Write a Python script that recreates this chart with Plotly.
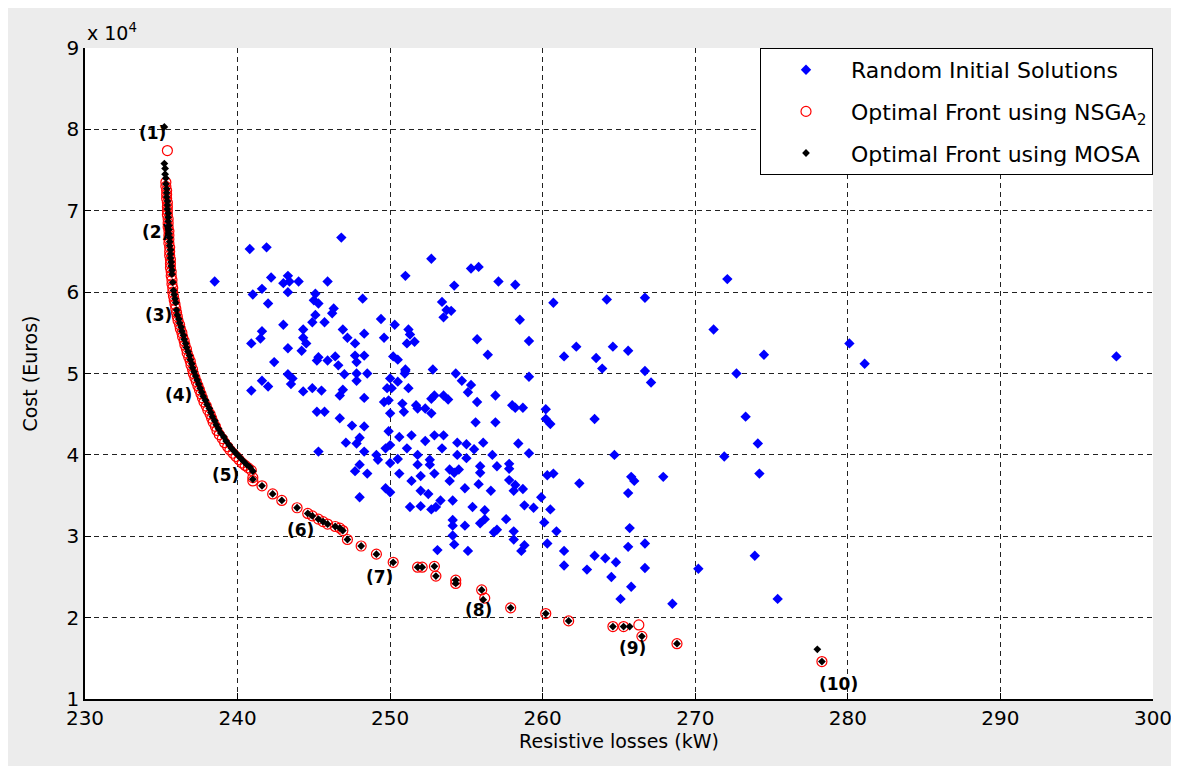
import plotly.graph_objects as go

# ---------------- data (cost in units of 1e4 Euros) ----------------
rand_x = [
    238.5, 240.8, 241.9, 246.8, 242.2, 243.3, 243.0, 243.4, 244.0, 245.9, 241.6, 241.0, 243.3, 242.0,
    245.1, 245.0, 245.3, 248.2, 246.3, 246.2, 245.1, 249.4, 250.3, 243.0, 244.9, 245.7, 241.6, 241.5,
    240.9, 244.3, 244.3, 244.5, 246.9, 247.2, 248.3, 247.7, 249.6, 251.2, 251.3, 251.1, 251.6, 243.3,
    244.2, 242.4, 245.3, 245.2, 245.9, 246.4, 247.7, 248.3, 247.8, 246.6, 250.2, 250.5, 251.0, 250.96,
    252.7, 255.3, 255.8, 251.0, 254.2, 257.1, 253.4, 253.7, 253.5, 254.0, 255.7, 256.4, 247.8, 248.5,
    247.0, 243.3, 243.6, 243.5, 241.6, 242.0, 240.9, 244.3, 244.9, 245.5, 247.8, 246.9, 246.7, 248.3,
    250.0, 250.5, 249.8, 250.1, 251.2, 251.0, 252.8, 254.3, 254.7, 255.3, 255.1, 256.9, 252.7, 252.9,
    253.5, 253.8, 249.6, 249.9, 250.8, 251.7, 251.8, 250.9, 252.3, 252.7, 255.7, 245.2, 245.7, 250.0,
    246.7,
    247.5, 248.3, 249.9, 250.6, 251.4, 252.3, 252.9, 253.5, 254.4, 255.0, 256.1, 255.6, 256.9, 247.1,
    247.8, 248.0, 245.3, 248.3, 249.1, 249.2, 249.7, 250.0, 251.1, 250.5, 250.0, 251.8, 251.8, 252.6,
    252.6, 253.4, 254.4, 255.0, 255.5, 256.7, 257.0, 255.9, 248.0, 247.7, 248.5, 250.6, 251.4, 252.0,
    252.9, 253.9, 254.2, 254.5, 253.9, 254.9, 255.9, 255.8, 256.6, 249.7, 250.0, 248.0, 252.0, 252.5,
    253.3, 251.3, 252.0, 252.7, 253.0, 254.1, 255.4, 256.2, 254.1, 254.1, 254.9, 255.9, 256.2, 256.8,
    257.0, 254.1, 254.2, 253.1, 255.1,
    258.2, 260.7, 264.2, 266.7, 272.1, 258.5, 259.1, 261.4, 262.2, 263.5, 263.9, 264.6, 265.6, 266.7,
    267.1, 271.2, 274.5, 272.7, 259.1, 258.0, 258.2, 258.7, 260.2, 260.2, 260.5, 263.4, 273.3,
    274.1, 258.4, 259.1, 257.8, 257.8, 257.8, 258.1, 258.7, 258.2, 260.3, 260.7, 264.7, 262.4, 265.8,
    266.0, 265.6, 267.9, 271.9, 274.2, 259.9, 258.8, 259.4, 260.5, 260.1, 260.9, 257.6, 258.1, 258.1,
    258.8, 258.6, 260.3, 261.4, 261.4, 263.4, 264.1, 264.8, 262.9, 264.5, 265.7, 265.6, 266.7, 266.7,
    265.8, 265.1, 268.5, 270.2, 273.9, 275.4,
    280.1, 281.1, 297.6,
]
rand_y = [
    6.13, 6.53, 6.55, 6.67, 6.18, 6.20, 6.11, 6.13, 6.13, 6.13, 6.04, 5.97, 6.00, 5.86,
    5.98, 5.90, 5.86, 5.92, 5.80, 5.74, 5.72, 5.67, 5.60, 5.60, 5.63, 5.63, 5.52, 5.43,
    5.37, 5.54, 5.44, 5.37, 5.54, 5.44, 5.49, 5.37, 5.44, 5.54, 5.48, 5.37, 5.39, 5.31,
    5.28, 5.14, 5.20, 5.16, 5.16, 5.21, 5.22, 5.22, 5.14, 5.10, 5.21, 5.17, 5.05, 5.00,
    6.41, 6.29, 6.31, 6.20, 6.08, 6.13, 5.88, 5.78, 5.69, 5.77, 5.42, 5.23, 5.00, 5.00,
    4.99, 4.99, 4.94, 4.87, 4.91, 4.84, 4.79, 4.78, 4.82, 4.79, 4.91, 4.80, 4.73, 4.70,
    4.94, 4.90, 4.82, 4.82, 4.82, 5.03, 5.05, 5.00, 4.91, 4.86, 4.77, 4.73, 4.69, 4.73,
    4.73, 4.68, 4.65, 4.67, 4.63, 4.61, 4.57, 4.53, 4.57, 4.51, 4.65, 4.53, 4.53, 4.51,
    4.45,
    4.36, 4.35, 4.29, 4.22, 4.24, 4.17, 4.24, 4.24, 4.15, 4.13, 4.15, 4.40, 4.40, 4.15,
    4.14, 4.21, 4.04, 4.04, 4.00, 3.94, 4.08, 4.12, 4.08, 3.95, 3.90, 4.00, 3.88, 3.94,
    3.88, 4.08, 4.00, 3.96, 4.07, 4.00, 3.86, 3.86, 3.88, 3.80, 3.77, 3.77, 3.68, 3.74,
    3.77, 3.82, 3.78, 3.82, 3.68, 3.59, 3.78, 3.64, 3.56, 3.59, 3.54, 3.48, 3.56, 3.52,
    3.44, 3.36, 3.37, 3.33, 3.36, 3.44, 3.36, 3.32, 3.20, 3.13, 3.13, 3.16, 3.21, 3.05,
    3.08, 3.01, 2.90, 2.83, 2.82,
    6.09, 5.87, 5.91, 5.93, 6.16, 5.66, 5.40, 5.21, 5.33, 5.19, 5.06, 5.33, 5.28, 5.03,
    4.89, 5.54, 5.23, 5.00, 4.96, 4.61, 4.58, 4.58, 4.56, 4.44, 4.38, 4.44, 4.47,
    4.14, 4.14, 4.02, 3.89, 3.83, 3.69, 3.56, 3.58, 3.63, 3.75, 3.77, 4.00, 3.65, 3.73,
    3.68, 3.53, 3.73, 3.98, 3.77, 3.48, 3.38, 3.35, 3.33, 3.17, 3.06, 3.21, 3.06, 2.96,
    2.89, 2.82, 2.91, 2.82, 2.64, 2.76, 2.73, 2.68, 2.59, 2.50, 3.10, 2.87, 2.91, 2.61,
    2.38, 2.23, 2.17, 2.60, 2.76, 2.23,
    5.37, 5.12, 5.21,
]

nsga_x = [
    235.4,
    235.3, 235.3, 235.35, 235.35, 235.35, 235.4, 235.4, 235.4, 235.4, 235.45, 235.45, 235.45,
    235.5, 235.5, 235.5, 235.5, 235.55, 235.55, 235.55, 235.6, 235.6, 235.6, 235.65, 235.65,
    235.7, 235.7, 235.75, 235.75, 235.8, 235.85, 235.9, 235.95, 236.0, 236.05, 236.1, 236.2,
    236.25, 236.35, 236.4, 236.5, 236.55, 236.65, 236.7, 236.8, 236.9, 236.95, 237.05, 237.1,
    237.2, 237.3, 237.4, 237.5, 237.6, 237.7, 237.8, 237.95, 238.05, 238.2, 238.3, 238.4,
    238.55, 238.65, 238.8, 239.0, 239.15, 239.35, 239.5, 239.7, 239.9, 240.1, 240.3, 240.5,
    240.7, 240.9, 241.0, 241.0,
    241.6, 242.3, 242.9, 243.9, 244.6, 244.9, 245.3, 245.6, 245.9, 246.4, 246.7, 246.9,
    247.2, 248.1, 249.1, 250.2, 251.8, 252.1, 252.9, 253.0, 254.3, 254.3, 256.0, 256.2,
    257.9, 260.2, 261.7, 264.6, 265.3, 266.3, 266.5, 268.8, 278.3,
]
nsga_y = [
    7.74,
    7.35, 7.30, 7.25, 7.20, 7.15, 7.10, 7.05, 7.00, 6.95, 6.90, 6.85, 6.80,
    6.75, 6.70, 6.65, 6.60, 6.55, 6.50, 6.45, 6.40, 6.35, 6.30, 6.25, 6.20,
    6.15, 6.10, 6.05, 6.00, 5.95, 5.90, 5.85, 5.80, 5.75, 5.70, 5.65, 5.60,
    5.55, 5.50, 5.45, 5.40, 5.35, 5.30, 5.25, 5.20, 5.15, 5.10, 5.05, 5.00,
    4.95, 4.90, 4.85, 4.80, 4.75, 4.70, 4.65, 4.60, 4.55, 4.50, 4.45, 4.40,
    4.35, 4.30, 4.25, 4.20, 4.15, 4.10, 4.06, 4.02, 3.98, 3.94, 3.90, 3.87,
    3.84, 3.81, 3.72, 3.68,
    3.62, 3.52, 3.44, 3.35, 3.28, 3.25, 3.21, 3.18, 3.15, 3.12, 3.10, 3.07,
    2.96, 2.88, 2.78, 2.68, 2.62, 2.62, 2.63, 2.51, 2.46, 2.42, 2.34, 2.24,
    2.12, 2.05, 1.96, 1.89, 1.89, 1.91, 1.77, 1.68, 1.46,
]

mosa_x = [
    235.2,
    235.2, 235.25, 235.25, 235.3, 235.3, 235.35, 235.35, 235.35, 235.4, 235.4, 235.4, 235.45,
    235.45, 235.45, 235.5, 235.5, 235.5, 235.55, 235.55, 235.55, 235.6, 235.6, 235.6, 235.65,
    235.65, 235.7, 235.7, 235.75, 235.8, 235.85, 235.9, 235.95, 236.0, 236.05, 236.15, 236.2,
    236.3, 236.35, 236.45, 236.5, 236.6, 236.65, 236.75, 236.85, 236.9, 237.0, 237.05, 237.15,
    237.25, 237.35, 237.45, 237.55, 237.65, 237.75, 237.9, 238.0, 238.15, 238.25, 238.35, 238.5,
    238.6, 238.75, 238.9, 239.1, 239.25, 239.45, 239.6, 239.8, 240.0, 240.2, 240.4, 240.6,
    240.8, 241.0, 241.0,
    241.6, 242.3, 242.9, 243.9, 244.6, 244.9, 245.3, 245.6, 245.9, 246.4, 246.7, 246.9,
    247.2, 248.1, 249.1, 250.2, 251.8, 252.1, 252.9, 253.0, 254.3, 254.3, 256.0, 256.1,
    257.9, 260.2, 261.7, 264.6, 265.3, 265.7, 266.5, 268.8, 278.0, 278.3,
]
mosa_y = [
    8.03,
    7.58, 7.52, 7.45, 7.40, 7.33, 7.27, 7.22, 7.17, 7.12, 7.07, 7.02, 6.97,
    6.92, 6.87, 6.82, 6.77, 6.72, 6.67, 6.62, 6.57, 6.52, 6.47, 6.42, 6.37,
    6.32, 6.27, 6.22, 6.12, 6.02, 5.97, 5.92, 5.87, 5.78, 5.72, 5.67, 5.62,
    5.57, 5.52, 5.47, 5.42, 5.37, 5.32, 5.27, 5.22, 5.17, 5.12, 5.07, 5.02,
    4.97, 4.92, 4.87, 4.82, 4.77, 4.72, 4.67, 4.62, 4.57, 4.52, 4.47, 4.42,
    4.37, 4.32, 4.27, 4.22, 4.17, 4.12, 4.08, 4.04, 4.00, 3.96, 3.92, 3.88,
    3.85, 3.80, 3.70,
    3.62, 3.52, 3.44, 3.35, 3.28, 3.25, 3.21, 3.18, 3.15, 3.12, 3.10, 3.07,
    2.96, 2.88, 2.78, 2.68, 2.62, 2.62, 2.63, 2.51, 2.46, 2.42, 2.34, 2.22,
    2.12, 2.05, 1.96, 1.89, 1.89, 1.89, 1.77, 1.68, 1.61, 1.46,
]

label_text = ["(1)", "(2)", "(3)", "(4)", "(5)", "(6)", "(7)", "(8)", "(9)", "(10)"]
label_x = [234.4, 234.6, 234.8, 236.1, 239.2, 244.1, 249.3, 255.8, 265.9, 279.4]
label_y = [7.95, 6.74, 5.72, 4.73, 3.75, 3.08, 2.50, 2.09, 1.63, 1.18]

x_ticks = [230, 240, 250, 260, 270, 280, 290, 300]
y_ticks = [1, 2, 3, 4, 5, 6, 7, 8, 9]

FONT = "DejaVu Sans, Liberation Sans, Arial, sans-serif"

fig = go.Figure()
fig.add_trace(go.Scatter(
    x=rand_x, y=rand_y, mode="markers", name="Random Initial Solutions",
    legendgroup="a",
    marker=dict(symbol="diamond", size=8, color="#0000ff", line=dict(width=0)),
))
fig.add_trace(go.Scatter(
    x=nsga_x, y=nsga_y, mode="markers", name="Optimal Front using NSGA<sub>2</sub>",
    legendgroup="b",
    marker=dict(symbol="circle-open", size=10, color="#ff0000", line=dict(width=1.2, color="#ff0000")),
))
fig.add_trace(go.Scatter(
    x=mosa_x, y=mosa_y, mode="markers", name="Optimal Front using MOSA",
    legendgroup="c",
    marker=dict(symbol="diamond", size=6, color="#000000", line=dict(width=0)),
))

for t, lx, ly in zip(label_text, label_x, label_y):
    fig.add_annotation(x=lx, y=ly, xref="x", yref="y", text="<b>" + t + "</b>",
                       showarrow=False, font=dict(family=FONT, size=17, color="#000000"))

fig.add_annotation(x=0, y=1, xref="paper", yref="paper", xanchor="left", yanchor="bottom",
                   yshift=2, text="x 10<sup>4</sup>", showarrow=False,
                   font=dict(family=FONT, size=19, color="#000000"))

axis_common = dict(
    showline=True, linecolor="#000000", linewidth=1.5,
    ticks="inside", ticklen=6, tickcolor="#000000", tickwidth=1,
    showgrid=True, gridcolor="#222222", griddash="5px,4px", gridwidth=1,
    zeroline=False, mirror=False,
    tickfont=dict(family=FONT, size=20, color="#000000"),
)

fig.update_layout(
    width=1179, height=766,
    paper_bgcolor="#ececec", plot_bgcolor="#ffffff",
    margin=dict(l=77, r=34, t=40, b=75),
    font=dict(family=FONT, color="#000000"),
    xaxis=dict(range=[230, 300], tickvals=x_ticks, ticktext=[str(v) for v in x_ticks],
               title=dict(text="Resistive losses (kW)", font=dict(family=FONT, size=19), standoff=4),
               **axis_common),
    yaxis=dict(range=[1, 9], tickvals=y_ticks, ticktext=[str(v) for v in y_ticks],
               title=dict(text="Cost (Euros)", font=dict(family=FONT, size=19), standoff=24),
               **axis_common),
    legend=dict(x=1, y=1, xanchor="right", yanchor="top",
                bgcolor="#ffffff", bordercolor="#000000", borderwidth=1,
                font=dict(family=FONT, size=22, color="#000000"),
                itemwidth=80, tracegroupgap=10, traceorder="grouped"),
    showlegend=True,
)

fig.write_html("out.html")
